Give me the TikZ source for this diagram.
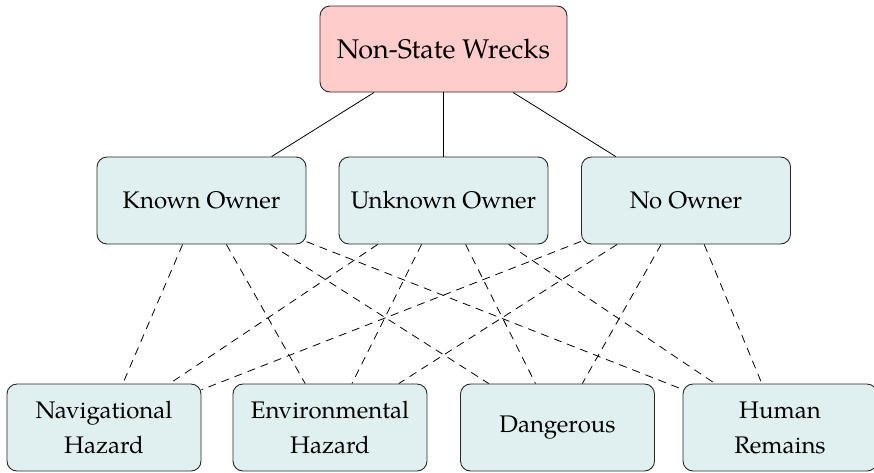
\documentclass[tikz,border=0pt]{standalone}
\usepackage{fontspec}
\setmainfont{TeX Gyre Pagella}
\begin{document}
\begin{tikzpicture}[x=1pt,y=-1pt,
  box/.style={draw=black!85, line width=0.9pt, rounded corners=10pt, align=center,
    minimum height=87pt, inner sep=0pt, font=\fontsize{24}{35}\selectfont},
  topbox/.style={box, fill=red!20, minimum width=247pt, minimum height=86pt,
    font=\fontsize{27}{35}\selectfont},
  midbox/.style={box, fill=teal!12, minimum width=209pt},
  botbox/.style={box, fill=teal!12, minimum width=194pt},
  solidlink/.style={line width=0.8pt},
  dashlink/.style={line width=0.8pt, dash pattern=on 8pt off 6pt}]
\useasboundingbox (0,0) rectangle (874,472);
\node[topbox] (top) at (443.5,49) {Non-State Wrecks};
\node[midbox] (known) at (201.5,200.5) {Known Owner};
\node[midbox] (unknown) at (443.5,200.5) {Unknown Owner};
\node[midbox] (none) at (686,200.5) {No Owner};
\node[botbox] (nav) at (104,427.5) {Navigational\\Hazard};
\node[botbox] (env) at (330,427.5) {Environmental\\Hazard};
\node[botbox] (dang) at (557.5,427.5) {Dangerous};
\node[botbox] (human) at (780,427.5) {Human\\Remains};
\foreach \m in {known,unknown,none}{
  \draw[solidlink] (top) -- (\m);
  \foreach \b in {nav,env,dang,human}{
    \draw[dashlink] (\m) -- (\b);
  }
}
\end{tikzpicture}
\end{document}
